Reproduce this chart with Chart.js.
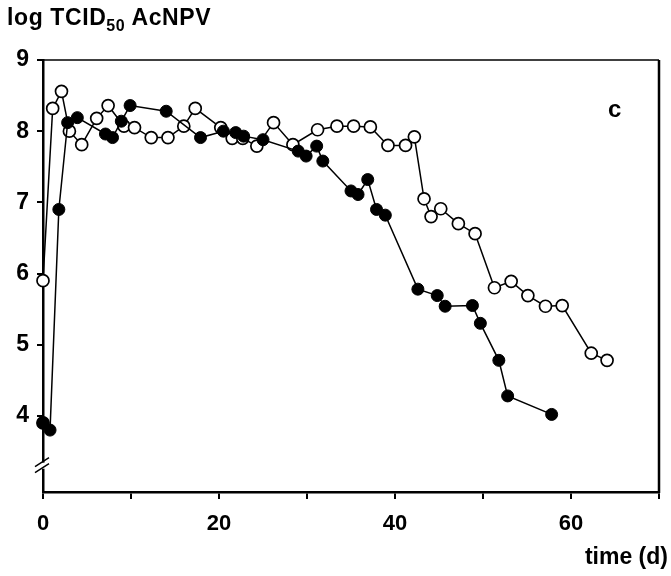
<!DOCTYPE html>
<html>
<head>
<meta charset="utf-8">
<script src="https://cdn.jsdelivr.net/npm/chart.js@4"></script>
<style>
    html, body { margin: 0; padding: 0; background: #fff; }
    #wrap { position: relative; width: 671px; height: 576px; font-family: "Liberation Sans", Arial, sans-serif; font-weight: bold; color: #000; }
    #grafico { position: absolute; left: 0; top: 0; }
    .rotulo { position: absolute; white-space: nowrap; line-height: 1; }
    #titulo { left: 7px; top: 6px; font-size: 23px; letter-spacing: 0.6px; }
    #titulo sub { font-size: 16px; vertical-align: -6px; }
    #painel { left: 608px; top: 97px; font-size: 24px; }
    #eixoX { right: 3px; top: 545px; font-size: 23px; }
</style>
</head>
<body>
<div id="wrap">
    <canvas id="grafico" width="671" height="576"></canvas>
    <div class="rotulo" id="titulo">log TCID<sub>50</sub> AcNPV</div>
    <div class="rotulo" id="painel">c</div>
    <div class="rotulo" id="eixoX">time (d)</div>
</div>
<script>
// dados (dias, log TCID50)
const diasAberto = [0, 0, 1.1, 2.1, 3.0, 4.4, 6.1, 7.4, 9.2, 10.4, 12.3, 14.2, 16.0, 17.3, 20.2, 21.5, 22.7, 24.3, 26.2, 28.4, 31.2, 33.4, 35.3, 37.2, 39.2, 41.2, 42.2, 43.3, 44.1, 45.2, 47.2, 49.1, 51.3, 53.2, 55.1, 57.1, 59.0, 62.3, 64.1];
const tituloAberto = [3.9, 5.9, 8.32, 8.56, 8.0, 7.81, 8.18, 8.36, 8.07, 8.05, 7.91, 7.91, 8.07, 8.32, 8.05, 7.9, 7.9, 7.79, 8.12, 7.81, 8.02, 8.07, 8.07, 8.06, 7.8, 7.8, 7.92, 7.05, 6.8, 6.91, 6.7, 6.56, 5.8, 5.89, 5.69, 5.54, 5.55, 4.88, 4.78];

const diasCheio = [0, 0.8, 1.8, 2.8, 3.9, 7.1, 7.9, 8.9, 9.9, 14.0, 17.9, 20.5, 21.9, 22.8, 25.0, 29.0, 29.9, 31.1, 31.8, 35.0, 35.8, 36.9, 37.9, 38.9, 42.6, 44.8, 45.7, 48.8, 49.7, 51.8, 52.8, 57.8];
const tituloCheio = [3.9, 3.8, 6.9, 8.12, 8.19, 7.96, 7.91, 8.14, 8.36, 8.28, 7.91, 8.0, 7.98, 7.93, 7.88, 7.72, 7.65, 7.79, 7.58, 7.16, 7.11, 7.32, 6.9, 6.82, 5.78, 5.69, 5.54, 5.55, 5.3, 4.78, 4.28, 4.02];

const ticksY = [4, 5, 6, 7, 8, 9];
const rotulosX = [0, 20, 40, 60];
const quebraY = 3.3; // posição da quebra no eixo y

const pontos = (xs, ys) => xs.map((x, i) => ({ x: x, y: ys[i] }));

// moldura superior/direita e quebra do eixo
const moldura = {
    id: 'moldura',
    afterDraw(chart) {
        const { ctx, chartArea: a } = chart;
        ctx.save();
        ctx.strokeStyle = '#000';
        ctx.lineWidth = 1.5;
        ctx.beginPath();
        ctx.moveTo(a.left, a.top);
        ctx.lineTo(a.right, a.top);
        ctx.stroke();
        ctx.lineWidth = 2.5;
        ctx.beginPath();
        ctx.moveTo(a.right, a.top);
        ctx.lineTo(a.right, a.bottom + 1);
        ctx.stroke();

        const yq = chart.scales.y.getPixelForValue(quebraY);
        ctx.fillStyle = '#fff';
        ctx.fillRect(a.left - 3, yq - 3, 6, 6);
        ctx.lineWidth = 1.5;
        ctx.beginPath();
        ctx.moveTo(a.left - 8, yq + 1);
        ctx.lineTo(a.left + 6, yq - 8);
        ctx.moveTo(a.left - 8, yq + 7);
        ctx.lineTo(a.left + 6, yq - 2);
        ctx.stroke();
        ctx.restore();
    }
};

new Chart(document.getElementById('grafico'), {
    type: 'line',
    data: {
        datasets: [
            {
                label: 'aberto',
                data: pontos(diasAberto, tituloAberto),
                borderColor: '#000',
                borderWidth: 1.5,
                pointRadius: 6,
                pointBackgroundColor: '#fff',
                pointBorderColor: '#000',
                pointBorderWidth: 1.7,
                tension: 0,
                clip: false,
                order: 2
            },
            {
                label: 'cheio',
                data: pontos(diasCheio, tituloCheio),
                borderColor: '#000',
                borderWidth: 1.5,
                pointRadius: 6,
                pointBackgroundColor: '#000',
                pointBorderColor: '#000',
                pointBorderWidth: 1,
                tension: 0,
                clip: false,
                order: 1
            }
        ]
    },
    options: {
        responsive: false,
        animation: false,
        layout: { padding: { top: 60, right: 2, left: 0, bottom: 0 } },
        plugins: { legend: { display: false }, tooltip: { enabled: false } },
        scales: {
            x: {
                type: 'linear',
                min: 0,
                max: 70,
                afterFit: s => { s.height = 84; },
                ticks: {
                    stepSize: 10,
                    color: '#000',
                    padding: 12,
                    font: { family: 'Liberation Sans', size: 22, weight: 'bold' },
                    callback: v => rotulosX.includes(v) ? String(v) : ''
                },
                grid: { drawOnChartArea: false, color: '#000', tickLength: 7, lineWidth: 2 },
                border: { color: '#000', width: 2.5 }
            },
            y: {
                min: 2.93,
                max: 9,
                afterFit: s => { s.width = 43; },
                afterBuildTicks: s => { s.ticks = ticksY.map(v => ({ value: v })); },
                ticks: {
                    color: '#000',
                    padding: 8,
                    font: { family: 'Liberation Sans', size: 23, weight: 'bold' }
                },
                grid: { drawOnChartArea: false, color: '#000', tickLength: 6, lineWidth: 2 },
                border: { color: '#000', width: 2.5 }
            }
        }
    },
    plugins: [moldura]
});
</script>
</body>
</html>
